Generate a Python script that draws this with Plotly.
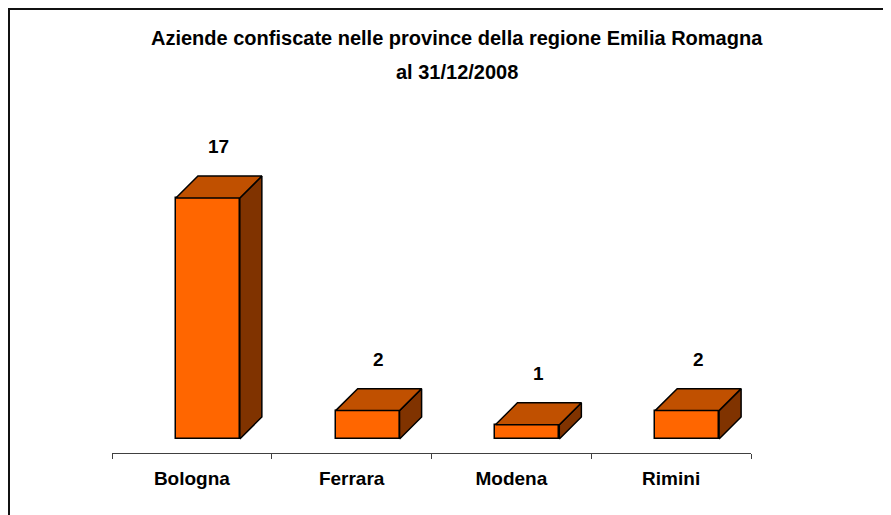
import plotly.graph_objects as go

categories = ["Bologna", "Ferrara", "Modena", "Rimini"]
values = [17, 2, 1, 2]
title_lines = ["Aziende confiscate nelle province della regione Emilia Romagna", "al 31/12/2008"]

FRONT = "#FF6600"
TOP = "#C05000"
SIDE = "#803300"
FONT = "Liberation Sans, Arial, sans-serif"

# page offset of the figure inside the browser page (body margin)
PAGE_OFF = 8
W_PX, H_PX = 891, 515
ML, MT = 112 - PAGE_OFF, 120 - PAGE_OFF
MR = W_PX - (751 - PAGE_OFF)
MB = H_PX - (453 - PAGE_OFF)
PW = W_PX - ML - MR
PH = H_PX - MT - MB

BAR_W = 0.4
BAR_OFF = -0.1
DX = 0.138
DY = 1.55
YMIN, YMAX = -0.99, 22.5

pos = list(range(len(categories)))

fig = go.Figure()
fig.add_bar(x=pos, y=values, width=BAR_W, offset=BAR_OFF,
            marker=dict(color=FRONT, line=dict(color="black", width=1.5)),
            hoverinfo="skip", showlegend=False)

tx, ty, sx, sy = [], [], [], []
for p, v in zip(pos, values):
    x0 = p + BAR_OFF
    x1 = x0 + BAR_W
    tx += [x0, x1, x1 + DX, x0 + DX, x0, None]
    ty += [v, v, v + DY, v + DY, v, None]
    sx += [x1, x1 + DX, x1 + DX, x1, x1, None]
    sy += [0, DY, v + DY, v, 0, None]

fig.add_scatter(x=sx, y=sy, mode="lines", fill="toself", fillcolor=SIDE,
                line=dict(color="black", width=1.5), hoverinfo="skip", showlegend=False)
fig.add_scatter(x=tx, y=ty, mode="lines", fill="toself", fillcolor=TOP,
                line=dict(color="black", width=1.5), hoverinfo="skip", showlegend=False)

annotations = []
for p, v in zip(pos, values):
    annotations.append(dict(x=p + BAR_OFF + (BAR_W + DX) / 2, y=v + DY, yshift=29.5,
                            text=str(v), showarrow=False, xanchor="center", yanchor="middle",
                            font=dict(family=FONT, size=19, color="black", weight="bold")))

def px_to_paper_x(px):
    return (px - PAGE_OFF - ML) / PW

def px_to_paper_y(py):
    return (H_PX - MB - (py - PAGE_OFF)) / PH

title_y = [38, 72]
for line, yy in zip(title_lines, title_y):
    annotations.append(dict(x=px_to_paper_x(457), y=px_to_paper_y(yy), xref="paper", yref="paper",
                            text=line, showarrow=False, xanchor="center", yanchor="middle",
                            font=dict(family=FONT, size=20, color="black", weight="bold")))

BORDER_X, BORDER_Y = 9, 9
shapes = [
    dict(type="line", xref="paper", yref="paper",
         x0=px_to_paper_x(BORDER_X - 1), y0=px_to_paper_y(BORDER_Y), x1=px_to_paper_x(900), y1=px_to_paper_y(BORDER_Y),
         line=dict(color="#111111", width=2)),
    dict(type="line", xref="paper", yref="paper",
         x0=px_to_paper_x(BORDER_X), y0=px_to_paper_y(BORDER_Y - 1), x1=px_to_paper_x(BORDER_X), y1=px_to_paper_y(530),
         line=dict(color="#111111", width=2)),
]

boundaries = [p - 0.5 for p in pos] + [pos[-1] + 0.5]

fig.update_layout(
    width=W_PX, height=H_PX,
    margin=dict(l=ML, r=MR, t=MT, b=MB),
    paper_bgcolor="white", plot_bgcolor="white",
    annotations=annotations, shapes=shapes,
    bargap=0,
    xaxis=dict(range=[-0.5, len(categories) - 0.5], tickmode="array", tickvals=pos, ticktext=categories,
               showline=True, linecolor="#404040", linewidth=1, ticks="", showgrid=False, zeroline=False,
               tickfont=dict(family=FONT, size=19, color="black", weight="bold"),
               ticklabelstandoff=8,
               minor=dict(tickmode="array", tickvals=boundaries, ticks="outside", ticklen=5,
                          tickcolor="#404040", tickwidth=1, showgrid=False)),
    yaxis=dict(range=[YMIN, YMAX], visible=False, showgrid=False, zeroline=False),
)

fig.write_html("out.html")
